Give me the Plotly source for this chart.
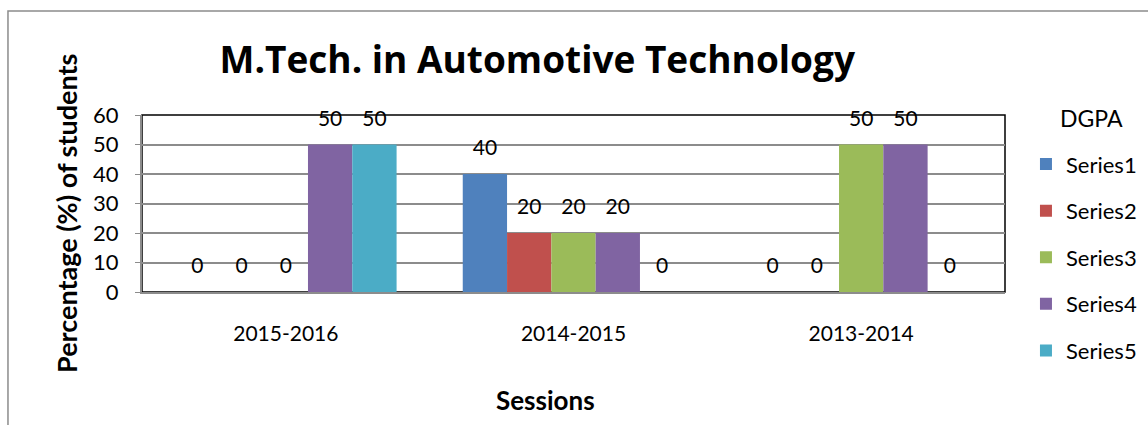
import plotly.graph_objects as go

# data
sessions = ['2015-2016', '2014-2015', '2013-2014']
series_names = ['Series1', 'Series2', 'Series3', 'Series4', 'Series5']
series1 = [0, 40, 0]
series2 = [0, 20, 0]
series3 = [0, 20, 50]
series4 = [50, 20, 50]
series5 = [50, 0, 0]
series_colors = ['#4F81BD', '#C0504D', '#9BBB59', '#8064A2', '#4BACC6']

FONT = 'Lato, Carlito, Calibri, sans-serif'
GRID = '#8c8c8c'
GAP = 0.23

fig = go.Figure()

all_series = [series1, series2, series3, series4, series5]

# bars
for name, vals, color in zip(series_names, all_series, series_colors):
    fig.add_trace(go.Bar(
        x=sessions,
        y=vals,
        name=name,
        legendgroup=name,
        offsetgroup=name,
        marker=dict(color=color, line=dict(width=0)),
        hoverinfo='x+y+name',
    ))

# value labels (grouped scatter so they sit over their bars, a bit higher than bar text)
for name, vals in zip(series_names, all_series):
    fig.add_trace(go.Scatter(
        x=sessions,
        y=vals,
        mode='markers+text',
        orientation='v',
        offsetgroup=name,
        text=[str(v) for v in vals],
        textposition='top center',
        textfont=dict(family=FONT, size=21, color='#000000'),
        marker=dict(size=20, opacity=0),
        showlegend=False,
        hoverinfo='skip',
        cliponaxis=False,
    ))

fig.update_layout(
    width=1148,
    height=425,
    margin=dict(l=142, r=143, t=115, b=133),
    paper_bgcolor='white',
    plot_bgcolor='white',
    barmode='group',
    bargap=GAP,
    bargroupgap=0,
    scattermode='group',
    scattergap=GAP,
    font=dict(family=FONT, size=21, color='#000000'),
    title=dict(
        text='<b>M.Tech. in Automotive Technology</b>',
        font=dict(family='Open Sans, sans-serif', size=37, color='#000000'),
        x=0.468, xref='container', xanchor='center',
        y=0.859, yref='container', yanchor='middle',
    ),
    legend=dict(
        xref='container', yref='container',
        x=0.8937, xanchor='left',
        y=0.663, yanchor='top',
        font=dict(size=22),
        tracegroupgap=15,
        maxheight=420,
        bgcolor='rgba(0,0,0,0)',
    ),
    xaxis=dict(
        showline=True, linecolor=GRID, linewidth=2,
        showgrid=False,
        ticks='', ticklabelstandoff=22,
        tickfont=dict(size=21),
    ),
    yaxis=dict(
        range=[0, 60], dtick=10,
        showline=True, linecolor=GRID, linewidth=2,
        showgrid=True, gridcolor=GRID, gridwidth=1.5,
        ticks='outside', ticklen=5, tickcolor=GRID,
        ticklabelstandoff=12,
        tickfont=dict(size=22),
        zeroline=False,
    ),
    shapes=[
        # plot area frame (top/right in black)
        dict(type='rect', xref='paper', yref='paper', x0=0, x1=1, y0=0, y1=1,
             line=dict(color='#000000', width=1.5), layer='below'),
        # outer chart border
        dict(type='rect', xref='paper', yref='paper', x0=-0.1553, x1=2, y0=-2, y1=1.587,
             line=dict(color='#8c8c8c', width=1.5)),
    ],
    annotations=[
        dict(text='DGPA',
             xref='paper', yref='paper', x=1.0997, y=0.983,
             xanchor='center', yanchor='middle', showarrow=False,
             font=dict(family=FONT, size=23, color='#000000')),
        dict(text='<b>Percentage (%) of students</b>', textangle=-90,
             xref='paper', yref='paper', x=-0.0869, y=0.441,
             xanchor='center', yanchor='middle', showarrow=False,
             font=dict(family=FONT, size=27, color='#000000')),
        dict(text='<b>Sessions</b>',
             xref='paper', yref='paper', x=0.468, y=-0.610,
             xanchor='center', yanchor='middle', showarrow=False,
             font=dict(family=FONT, size=26, color='#000000')),
    ],
)

fig.write_html('out.html', post_script="document.body.style.margin='0';",
               config={'displayModeBar': False})
